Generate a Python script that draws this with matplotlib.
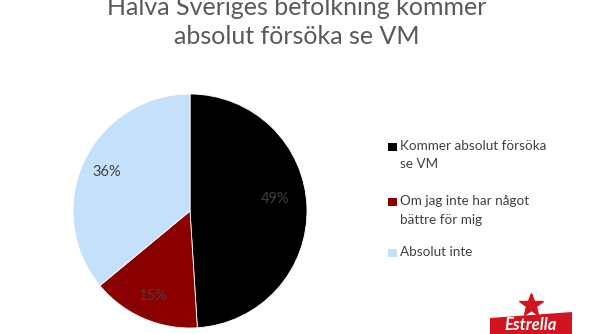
import matplotlib
matplotlib.use("Agg")
import matplotlib.pyplot as plt
import numpy as np
from matplotlib.patches import Rectangle, Polygon

title_lines = ["Halva Sveriges befolkning kommer", "absolut försöka se VM"]
categories = ["Kommer absolut försöka\nse VM", "Om jag inte har något\nbättre för mig", "Absolut inte"]
values = [49, 15, 36]
colors = ["#000000", "#8B0000", "#C5E0FA"]

plt.rcParams['font.family'] = ['Lato', 'DejaVu Sans']

W, H = 594, 334
fig = plt.figure(figsize=(W / 100, H / 100), dpi=100)
fig.patch.set_facecolor("white")

# pie axes: center ~ (190, 211) px, radius ~117 px
r = 117
cx, cy = 190, 211
ax = fig.add_axes([(cx - r) / W, (H - cy - r) / H, 2 * r / W, 2 * r / H])
wedges, texts = ax.pie(values, colors=colors, startangle=90, counterclock=False,
                       labels=[f"{v}%" for v in values], labeldistance=0.79,
                       wedgeprops=dict(edgecolor="white", linewidth=0.6),
                       textprops=dict(color="#404040", fontsize=10.5))
for t in texts:
    t.set_horizontalalignment("center")
    t.set_verticalalignment("center")
# first label sits a bit closer to centre and higher in the reference
w0 = wedges[0]
ang = np.deg2rad((w0.theta1 + w0.theta2) / 2 + 6)
texts[0].set_position((0.73 * np.cos(ang), 0.73 * np.sin(ang)))
ax.set_aspect("equal")
ax.set_xlim(-1, 1)
ax.set_ylim(-1, 1)

for line, base in zip(title_lines, [15, 44]):
    fig.text(0.5, 1 - base / H, line, ha="center", va="baseline", fontsize=18,
             color="#595959")

# legend
leg_y = [147, 202, 253]
for lab, col, y in zip(categories, colors, leg_y):
    fig.patches.append(Rectangle((388 / W, 1 - (y + 4) / H), 8.5 / W, 8.5 / H,
                                 transform=fig.transFigure, facecolor=col,
                                 edgecolor="none"))
    fig.text(400 / W, 1 - (y - 7) / H, lab, ha="left", va="top", fontsize=9.7,
             color="#404040", linespacing=1.65)

# logo (approximation)
fig.patches.append(Polygon([(490 / W, 0), (490 / W, 1 - 318 / H),
                            (572 / W, 1 - 312 / H), (572 / W, 0)],
                           closed=True, transform=fig.transFigure,
                           facecolor="#D2141E", edgecolor="none"))
fig.text(531 / W, 1 - 330 / H, "Estrella", ha="center", va="baseline",
         fontsize=12, fontstyle="italic", fontweight="bold", color="white")
star_ax = fig.add_axes([518 / W, 1 - 318 / H, 26 / W, 26 / H])
star_ax.plot([0], [0], marker="*", markersize=18, color="#D2141E")
star_ax.set_xlim(-1, 1)
star_ax.set_ylim(-1, 1)
star_ax.axis("off")

fig.savefig("out.png", dpi=100)
